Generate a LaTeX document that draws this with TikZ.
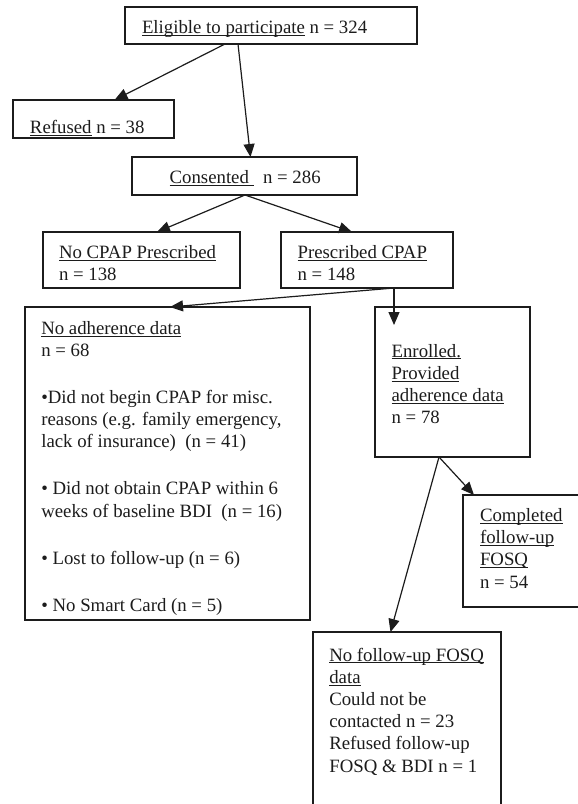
\documentclass[tikz,border=0pt]{standalone}
\usepackage{fontspec}
\setmainfont{Liberation Serif}
\usetikzlibrary{arrows.meta}
\definecolor{ink}{RGB}{28,28,28}
\newsavebox\ulbox
\newcommand\ulx[1]{\leavevmode\sbox\ulbox{#1}\rlap{\rule[-2.2pt]{\wd\ulbox}{0.9pt}}\usebox\ulbox}
\newcommand\pbx[2]{\parbox[t]{#1}{\raggedright #2}}
\begin{document}
\begin{tikzpicture}[x=1pt,y=-1pt,
  box/.style={draw=ink,line width=1.4pt,rectangle,inner sep=0pt,outer sep=0pt,anchor=north west},
  txt/.style={anchor=base west,inner sep=0pt,outer sep=0pt,text=ink,font=\fontsize{18.8}{22.2}\selectfont},
  arr/.style={draw=ink,line width=1.2pt,-{Triangle[length=13pt,width=11pt]}}]
\path[use as bounding box,fill=white] (0,0) rectangle (578,804);
\clip (0,0) rectangle (578,804);
% boxes
\node[box,minimum width=292pt,minimum height=37pt] (E) at (125,7) {};
\node[box,minimum width=161pt,minimum height=38pt] (R) at (13,100) {};
\node[box,minimum width=225pt,minimum height=38pt] (C) at (132,157) {};
\node[box,minimum width=197pt,minimum height=56pt] (N) at (43,232) {};
\node[box,minimum width=172pt,minimum height=56pt] (P) at (281,232) {};
\node[box,minimum width=285pt,minimum height=313pt] (A) at (25,307) {};
\node[box,minimum width=155pt,minimum height=150pt] (En) at (375,307) {};
\node[box,minimum width=160pt,minimum height=112pt] (Co) at (463,495) {};
\node[box,minimum width=188pt,minimum height=220pt] (F) at (313,632) {};
% texts
\node[txt] (tE) at (142,33.3) {\ulx{Eligible to participate} n = 324};
\node[txt] (tR) at (30,133.3) {\ulx{Refused} n = 38};
\node[txt] (tC) at (169.6,183.3) {\ulx{Consented~}~~n = 286};
\node[txt] (tN) at (59,258.7) {\pbx{180pt}{\ulx{No CPAP Prescribed}\\ n = 138}};
\node[txt] (tP) at (297.6,258.7) {\pbx{150pt}{\ulx{Prescribed CPAP}\\ n = 148}};
\node[txt] (tA) at (41.3,334.3) {\pbx{270pt}{\ulx{No adherence data}\\
n = 68\\[24.8pt]
•Did not begin CPAP for misc.\\
reasons (e.g. family emergency,\\
lack of insurance)~~(n = 41)\\[24.8pt]
• Did not obtain CPAP within 6\\
weeks of baseline BDI~~(n = 16)\\[24.8pt]
• Lost to follow-up (n = 6)\\[24.8pt]
• No Smart Card (n = 5)}};
\node[txt] (tEn) at (391.6,357) {\pbx{140pt}{\ulx{Enrolled.}\\ \ulx{Provided}\\ \ulx{adherence data}\\ n = 78}};
\node[txt] (tCo) at (480,521.5) {\pbx{100pt}{\ulx{Completed}\\ \ulx{follow-up}\\ \ulx{FOSQ}\\ n = 54}};
\node[txt] (tF) at (329.3,661) {\pbx{175pt}{\ulx{No follow-up FOSQ}\\ \ulx{data}\\ Could not be\\ contacted n = 23\\ Refused follow-up\\ FOSQ \& BDI n = 1}};
% connectors
\draw[arr] ([xshift=100pt]E.south west) -- ([xshift=101.5pt]R.north west);
\draw[arr] ([xshift=113pt]E.south west) -- ([xshift=118.5pt]C.north west);
\draw[arr] ([xshift=113pt]C.south west) -- ([xshift=114pt]N.north west);
\draw[arr] ([xshift=113pt]C.south west) -- ([xshift=71pt]P.north west);
\draw[arr] ([xshift=113pt]P.south west) -- ([xshift=145pt]A.north west);
\draw[arr] ([xshift=113pt]P.south west) -- ([xshift=19pt,yshift=-18pt]En.north west);
\draw[arr] ([xshift=64pt]En.south west) -- ([xshift=11pt]Co.north west);
\draw[arr] ([xshift=64pt]En.south west) -- ([xshift=77.5pt]F.north west);
\end{tikzpicture}
\end{document}
